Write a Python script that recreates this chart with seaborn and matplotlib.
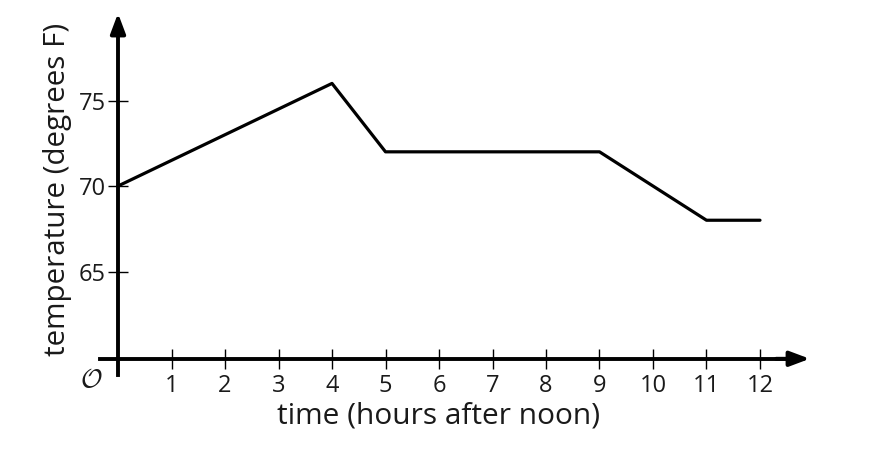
import matplotlib
matplotlib.use("Agg")
import matplotlib.pyplot as plt
import seaborn as sns
import pandas as pd

hours = [0, 4, 5, 9, 11, 12]
temps = [70, 76, 72, 72, 68, 68]
x_ticks = [1, 2, 3, 4, 5, 6, 7, 8, 9, 10, 11, 12]
y_ticks = [65, 70, 75]

sns.set_style("white")
plt.rcParams['font.family'] = ['Open Sans', 'DejaVu Sans']
plt.rcParams['mathtext.fontset'] = 'cm'

fig = plt.figure(figsize=(8.72, 4.54), dpi=100)
ax = fig.add_axes([0.1108, 0.157, 0.8221, 0.8288])
df = pd.DataFrame({"hours": hours, "temp": temps})
sns.lineplot(data=df, x="hours", y="temp", ax=ax, color="black", linewidth=2.3)

ax.set_xlim(-0.4, 13.0)
ax.set_ylim(58.5, 80.5)

for s in ["top", "right"]:
    ax.spines[s].set_visible(False)
ax.spines["left"].set_position(("data", 0))
ax.spines["bottom"].set_position(("data", 59.9))
ax.spines["left"].set_bounds(58.95, 79.5)
ax.spines["bottom"].set_bounds(-0.33, 12.5)
for s in ["left", "bottom"]:
    ax.spines[s].set_linewidth(2.8)
    ax.spines[s].set_color("black")

ax.annotate("", xy=(12.93, 59.9), xytext=(12.3, 59.9),
            arrowprops=dict(arrowstyle="-|>,head_length=1.2,head_width=0.45",
                            color="black", lw=2.8, shrinkA=0, shrinkB=0))
ax.annotate("", xy=(0, 80.1), xytext=(0, 79.0),
            arrowprops=dict(arrowstyle="-|>,head_length=1.2,head_width=0.45",
                            color="black", lw=2.8, shrinkA=0, shrinkB=0))

ax.set_xticks(x_ticks)
ax.set_xticklabels([str(v) for v in x_ticks])
ax.set_yticks(y_ticks)
ax.set_yticklabels([str(v) for v in y_ticks])
ax.tick_params(axis="both", direction="inout", length=14, width=1.0, color="black",
               labelsize=17, labelcolor="#1a1a1a", bottom=True, left=True)
ax.tick_params(axis="x", pad=4)
ax.tick_params(axis="y", pad=2)

ax.text(-0.5, 58.65, r"$\mathcal{O}$", fontsize=19, ha="center", va="center", color="#1a1a1a")

ax.set_xlabel("time (hours after noon)", fontsize=21.5, color="#1a1a1a")
ax.set_ylabel("temperature (degrees F)", fontsize=21.3, color="#1a1a1a")
ax.xaxis.set_label_coords((6.0 + 0.4) / 13.4, -0.05)
ax.yaxis.set_label_coords((57 - 96.6) / 716.9, (69.8 - 58.5) / 22)
ax.xaxis.label.set_va("top")
ax.yaxis.label.set_va("center")

fig.savefig("out.png", dpi=100)
